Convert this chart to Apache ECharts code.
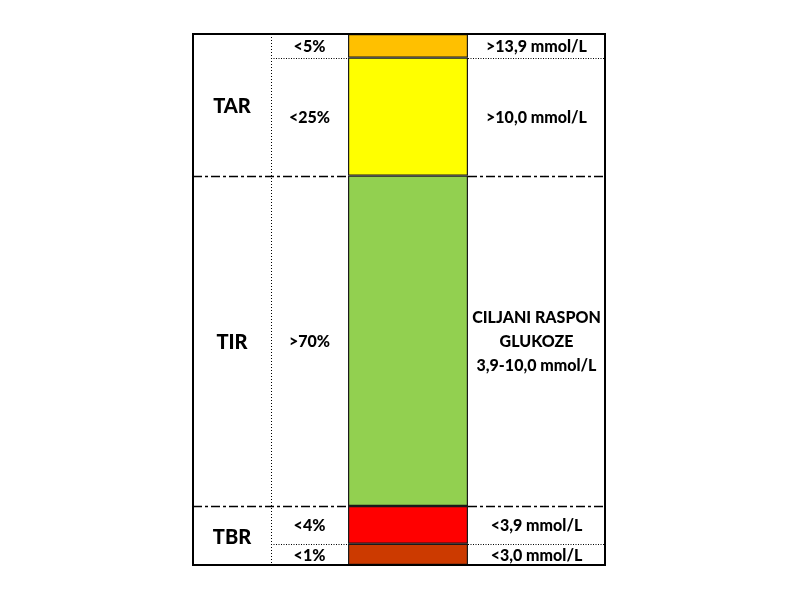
<!DOCTYPE html>
<html><head><meta charset="utf-8">
<script src="https://cdn.jsdelivr.net/npm/echarts@6/dist/echarts.min.js"></script>
<style>html,body{margin:0;padding:0;background:#fff}#c{width:800px;height:600px}</style>
</head><body><div id="c"></div>
<script>
// Segments, bottom to top
const segmentShares = ['<1%', '<4%', '>70%', '<25%', '<5%'];
const segmentValues = [4.5, 8, 70, 25, 5];
const segmentColors = ['#CC3A00', '#FF0000', '#92D050', '#FFFF00', '#FFC000'];
const segmentRanges = ['<3,0 mmol/L', '<3,9 mmol/L', 'CILJANI RASPON\nGLUKOZE\n3,9-10,0 mmol/L', '>10,0 mmol/L', '>13,9 mmol/L'];
// Groups, bottom to top: name and how many segments they span
const groupNames = ['TBR', 'TIR', 'TAR'];
const groupSizes = [2, 1, 2];

const total = segmentValues.reduce((a, b) => a + b, 0);
const chart = echarts.init(document.getElementById('c'), null, {renderer: 'canvas'});
const BOX = {l: 193, r: 605, t: 34, b: 565};
const COL1 = 271, BAR_L = 348, BAR_R = 468;
const COLX = [(BOX.l + COL1) / 2, (COL1 + BAR_L) / 2, (BAR_R + BOX.r) / 2];

chart.setOption({
  animation: false,
  grid: {left: BAR_L, width: BAR_R - BAR_L, top: BOX.t, height: BOX.b - BOX.t},
  xAxis: {type: 'category', data: ['CGM'], show: false},
  yAxis: {type: 'value', min: 0, max: total, show: false},
  series: segmentValues.map((v, i) => ({
    type: 'bar', stack: 't', data: [v], barWidth: '100%', name: segmentShares[i],
    itemStyle: {color: segmentColors[i], borderColor: '#1a1a1a', borderWidth: 1.2}
  }))
});

const cum = [0];
segmentValues.forEach(v => cum.push(cum[cum.length - 1] + v));
const py = v => chart.convertToPixel({yAxisIndex: 0, xAxisIndex: 0}, [0, v])[1];

const g = [];
const font = '900 16px Lato';
const line = (x1, y1, x2, y2, dash, w) => g.push({type: 'line', silent: true, z: 10,
  shape: {x1, y1, x2, y2}, style: {stroke: '#000', lineWidth: w || 1, lineDash: dash}});
const text = (t, x, y, f, lh) => g.push({type: 'text', z: 11,
  style: {text: t, x, y, font: f, fill: '#000', align: 'center', verticalAlign: 'middle', lineHeight: lh || 20}});

// segment rows
for (let i = 0; i < segmentValues.length; i++) {
  const yc = (py(cum[i]) + py(cum[i + 1])) / 2;
  text(segmentShares[i], COLX[1], yc + 1, font);
  text(segmentRanges[i], COLX[2], yc + 1, font, 24);
}
// groups
let k = 0;
groupNames.forEach((name, gi) => {
  const y0 = py(cum[k]), y1 = py(cum[k + groupSizes[gi]]);
  text(name, COLX[0], (y0 + y1) / 2 + 2, '900 20px Lato');
  // internal dotted separators inside group
  for (let j = k + 1; j < k + groupSizes[gi]; j++) {
    const y = Math.round(py(cum[j])) + 0.5;
    line(COL1, y, BAR_L, y, [1, 1.5], 1);
    line(BAR_R, y, BOX.r, y, [1, 1.5], 1);
  }
  k += groupSizes[gi];
  if (k < segmentValues.length) {
    const y = Math.round(py(cum[k])) + 0.5;
    line(BOX.l, y, BAR_L, y, [9, 3, 3, 3], 1.5);
    line(BAR_R, y, BOX.r, y, [9, 3, 3, 3], 1.5);
  }
});
// vertical dotted line
line(COL1 + 0.5, BOX.t, COL1 + 0.5, BOX.b, [1, 2], 1);
// outer box
g.push({type: 'rect', silent: true, z: 12, shape: {x: BOX.l, y: BOX.t, width: BOX.r - BOX.l, height: BOX.b - BOX.t},
  style: {fill: 'none', stroke: '#000', lineWidth: 2}});
chart.setOption({graphic: g});
</script></body></html>
